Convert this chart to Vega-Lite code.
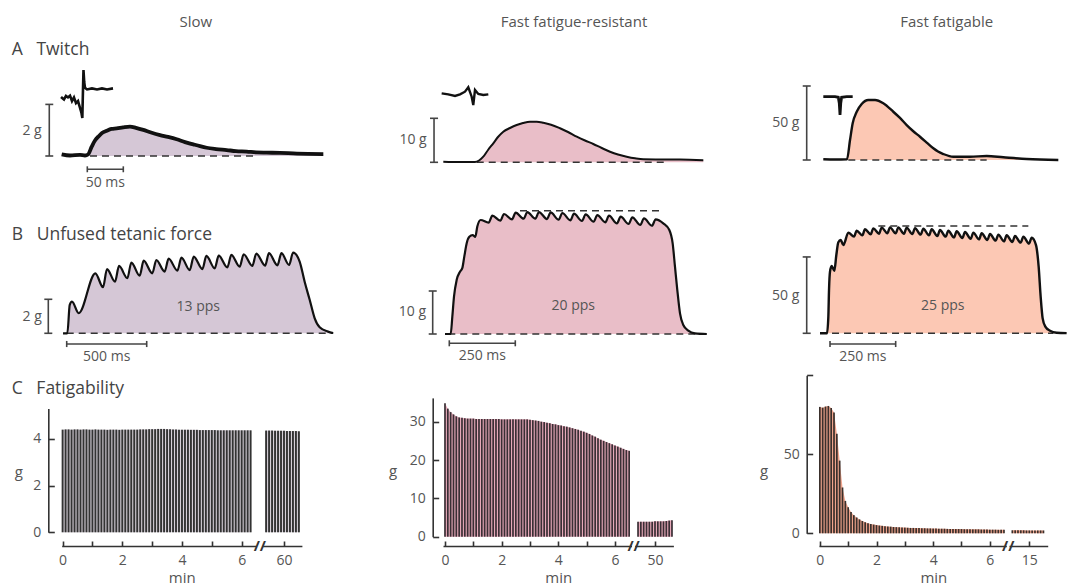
{
"$schema": "https://vega.github.io/schema/vega-lite/v6.json",
"padding": 0,
"background": "white",
"columns": 3,
"spacing": {"row": 8, "column": 30},
"bounds": "flush",
"config": {
  "view": {"stroke": null},
  "font": "Open Sans",
  "axis": {"grid": false, "domainColor": "#333", "tickColor": "#333", "domainWidth": 1.6, "tickWidth": 1.6, "labelFontSize": 14, "labelColor": "#555", "titleFontSize": 15, "titleFontWeight": "normal", "titleColor": "#555", "labelFlush": false, "labelOverlap": false},
  "title": {"fontSize": 17.5, "fontWeight": "normal", "color": "#444", "anchor": "start", "frame": "group"},
  "text": {"color": "#555", "fontSize": 14}
},
"concat": [
  {"width": 350, "height": 44, "data": {"values": [{"h": "Slow"}]}, "mark": {"type": "text", "dx": 20.8, "fontSize": 15, "color": "#555"}, "encoding": {"text": {"field": "h"}}},
  {"width": 350, "height": 44, "data": {"values": [{"h": "Fast fatigue-resistant"}]}, "mark": {"type": "text", "dx": 19, "fontSize": 15, "color": "#555"}, "encoding": {"text": {"field": "h"}}},
  {"width": 308, "height": 44, "data": {"values": [{"h": "Fast fatigable"}]}, "mark": {"type": "text", "dx": 32.7, "fontSize": 15, "color": "#555"}, "encoding": {"text": {"field": "h"}}},

  {"width": 350, "height": 135,
   "title": {"text": "A\u00a0\u00a0\u00a0Twitch", "dx": 11.7, "dy": 10},
   "data": {"values": [
    {"k":"f","t":-35.6,"g":0.066},{"k":"f","t":-24,"g":0.02},{"k":"f","t":-10.1,"g":0.04},{"k":"f","t":-3.2,"g":0.02},{"k":"f","t":1,"g":0.06},{"k":"f","t":6.1,"g":0.36},{"k":"f","t":10.7,"g":0.6},{"k":"f","t":15.3,"g":0.75},{"k":"f","t":20.4,"g":0.89},{"k":"f","t":26.9,"g":0.98},{"k":"f","t":33.6,"g":1.05},{"k":"f","t":40.8,"g":1.07},{"k":"f","t":49.6,"g":1.11},{"k":"f","t":59.3,"g":1.14},{"k":"f","t":67.6,"g":1.09},{"k":"f","t":77.8,"g":1.01},{"k":"f","t":88.5,"g":0.91},{"k":"f","t":101,"g":0.81},{"k":"f","t":112.1,"g":0.74},{"k":"f","t":124.2,"g":0.65},{"k":"f","t":135.7,"g":0.54},{"k":"f","t":147.2,"g":0.45},{"k":"f","t":156.5,"g":0.38},{"k":"f","t":165.8,"g":0.32},{"k":"f","t":178.8,"g":0.27},{"k":"f","t":193.6,"g":0.23},{"k":"f","t":206.5,"g":0.19},{"k":"f","t":221.4,"g":0.17},{"k":"f","t":234.3,"g":0.14},{"k":"f","t":249.2,"g":0.13},{"k":"f","t":267.6,"g":0.12},{"k":"f","t":286.1,"g":0.1},{"k":"f","t":306.5,"g":0.08},{"k":"f","t":327.8,"g":0.07},
    {"k":"e","t":-36.5,"g":2.29},{"k":"e","t":-32.4,"g":2.19},{"k":"e","t":-29.6,"g":2.33},{"k":"e","t":-26.8,"g":2.27},{"k":"e","t":-24,"g":2.34},{"k":"e","t":-21.25,"g":2.13},{"k":"e","t":-18.5,"g":2.27},{"k":"e","t":-15.7,"g":2.05},{"k":"e","t":-12.9,"g":2.13},{"k":"e","t":-10.1,"g":1.86},{"k":"e","t":-8.1,"g":1.67},{"k":"e","t":-6.9,"g":1.47},{"k":"e","t":-6,"g":2.56},{"k":"e","t":-5.3,"g":3.33},{"k":"e","t":-4.3,"g":2.87},{"k":"e","t":-3.2,"g":2.64},{"k":"e","t":-0.4,"g":2.58},{"k":"e","t":6.5,"g":2.62},{"k":"e","t":13.5,"g":2.58},{"k":"e","t":20.4,"g":2.62},{"k":"e","t":27.4,"g":2.58},{"k":"e","t":35.7,"g":2.62},
    {"k":"s","t":-52.8,"g":0,"t2":-52.8,"g2":2},{"k":"s","t":-58.3,"g":0,"t2":-47.3,"g2":0},{"k":"s","t":-58.3,"g":2,"t2":-47.3,"g2":2},
    {"k":"s","t":0,"g":-0.516,"t2":50,"g2":-0.516},{"k":"s","t":0,"g":-0.4,"t2":0,"g2":-0.63},{"k":"s","t":50,"g":-0.4,"t2":50,"g2":-0.63},
    {"k":"d","t":3.75,"g":0,"t2":235,"g2":0},
    {"k":"r","t":-63.3,"g":0.97,"txt":"2 g"},
    {"k":"c","t":25,"g":-1.058,"txt":"50 ms"}
   ]},
   "encoding": {
     "x": {"field": "t", "type": "quantitative", "scale": {"domain": [-121.25, 364.86]}, "axis": null},
     "y": {"field": "g", "type": "quantitative", "scale": {"domain": [-1.2016, 4.031]}, "axis": null}
   },
   "layer": [
     {"transform": [{"filter": "datum.k=='f'"}], "mark": {"type": "area", "color": "#d5c7d6", "interpolate": "monotone"}, "encoding": {"y2": {"datum": 0}}},
     {"transform": [{"filter": "datum.k=='d'"}], "mark": {"type": "rule", "color": "#333", "strokeWidth": 1.6, "strokeDash": [7, 5]}, "encoding": {"x2": {"field": "t2"}, "y2": {"field": "g2"}}},
     {"transform": [{"filter": "datum.k=='f'"}], "mark": {"type": "line", "color": "#111", "strokeWidth": 3.8, "interpolate": "monotone"}},
     {"transform": [{"filter": "datum.k=='e'"}], "mark": {"type": "line", "color": "#111", "strokeWidth": 2.6}},
     {"transform": [{"filter": "datum.k=='s'"}], "mark": {"type": "rule", "color": "#444", "strokeWidth": 1.6}, "encoding": {"x2": {"field": "t2"}, "y2": {"field": "g2"}}},
     {"transform": [{"filter": "datum.k=='r'"}], "mark": {"type": "text", "align": "right"}, "encoding": {"text": {"field": "txt"}}},
     {"transform": [{"filter": "datum.k=='c'"}], "mark": {"type": "text", "align": "center"}, "encoding": {"text": {"field": "txt"}}}
   ]
  },

  {"width": 350, "height": 135,
   "data": {"values": [
    {"k":"f","t":-44,"g":0.14},{"k":"f","t":-20.8,"g":0.07},{"k":"f","t":0,"g":0.07},{"k":"f","t":5.6,"g":0.41},{"k":"f","t":11.5,"g":1.27},{"k":"f","t":18.1,"g":2.8},{"k":"f","t":25.4,"g":4.32},{"k":"f","t":31.9,"g":5.75},{"k":"f","t":39.3,"g":6.95},{"k":"f","t":48.6,"g":7.8},{"k":"f","t":57.9,"g":8.48},{"k":"f","t":66.7,"g":8.93},{"k":"f","t":76.4,"g":9.23},{"k":"f","t":85.7,"g":9.23},{"k":"f","t":94.9,"g":9.0},{"k":"f","t":105.6,"g":8.55},{"k":"f","t":118.1,"g":7.73},{"k":"f","t":129.2,"g":6.89},{"k":"f","t":141.3,"g":5.82},{"k":"f","t":152.8,"g":4.95},{"k":"f","t":164.3,"g":4.16},{"k":"f","t":176,"g":3.25},{"k":"f","t":187.5,"g":2.41},{"k":"f","t":198.6,"g":1.77},{"k":"f","t":210.7,"g":1.27},{"k":"f","t":222.2,"g":0.91},{"k":"f","t":233.8,"g":0.68},{"k":"f","t":256.9,"g":0.64},{"k":"f","t":284.7,"g":0.61},{"k":"f","t":317.1,"g":0.48},
    {"k":"e","t":-46.3,"g":15.68},{"k":"e","t":-37.1,"g":15.45},{"k":"e","t":-27.8,"g":15.07},{"k":"e","t":-20.8,"g":15.45},{"k":"e","t":-13.9,"g":16.05},{"k":"e","t":-9.3,"g":17.05},{"k":"e","t":-4.6,"g":14.91},{"k":"e","t":-2.4,"g":13.02},{"k":"e","t":0,"g":16.43},{"k":"e","t":4.6,"g":15.52},{"k":"e","t":11.5,"g":15.3},{"k":"e","t":18.5,"g":15.45},
    {"k":"s","t":-56.9,"g":0,"t2":-56.9,"g2":10},{"k":"s","t":-62.5,"g":0,"t2":-51.3,"g2":0},{"k":"s","t":-62.5,"g":10,"t2":-51.3,"g2":10},
    {"k":"d","t":2.4,"g":0,"t2":266.2,"g2":0},
    {"k":"r","t":-67.1,"g":5.07,"txt":"10 g"}
   ]},
   "encoding": {
     "x": {"field": "t", "type": "quantitative", "scale": {"domain": [-131.94, 354.17]}, "axis": null},
     "y": {"field": "g", "type": "quantitative", "scale": {"domain": [-5.614, 25.07]}, "axis": null}
   },
   "layer": [
     {"transform": [{"filter": "datum.k=='f'"}], "mark": {"type": "area", "color": "#e9bec8", "interpolate": "monotone"}, "encoding": {"y2": {"datum": 0}}},
     {"transform": [{"filter": "datum.k=='d'"}], "mark": {"type": "rule", "color": "#333", "strokeWidth": 1.6, "strokeDash": [7, 5]}, "encoding": {"x2": {"field": "t2"}, "y2": {"field": "g2"}}},
     {"transform": [{"filter": "datum.k=='f'"}], "mark": {"type": "line", "color": "#111", "strokeWidth": 2, "interpolate": "monotone"}},
     {"transform": [{"filter": "datum.k=='e'"}], "mark": {"type": "line", "color": "#111", "strokeWidth": 2.4}},
     {"transform": [{"filter": "datum.k=='s'"}], "mark": {"type": "rule", "color": "#444", "strokeWidth": 1.6}, "encoding": {"x2": {"field": "t2"}, "y2": {"field": "g2"}}},
     {"transform": [{"filter": "datum.k=='r'"}], "mark": {"type": "text", "align": "right"}, "encoding": {"text": {"field": "txt"}}}
   ]
  },

  {"width": 308, "height": 135,
   "data": {"values": [
    {"k":"f","t":-32.9,"g":0.47},{"k":"f","t":-16.7,"g":0.34},{"k":"f","t":0,"g":0.47},{"k":"f","t":4.2,"g":13.5},{"k":"f","t":7.9,"g":24.8},{"k":"f","t":13.5,"g":32.6},{"k":"f","t":20.4,"g":37.8},{"k":"f","t":29.6,"g":40.5},{"k":"f","t":38.9,"g":40.5},{"k":"f","t":50.4,"g":38.3},{"k":"f","t":64.3,"g":32.6},{"k":"f","t":73.6,"g":28.4},{"k":"f","t":82.9,"g":23.6},{"k":"f","t":91.7,"g":19.6},{"k":"f","t":101.4,"g":15.7},{"k":"f","t":110.7,"g":11.8},{"k":"f","t":119.9,"g":7.9},{"k":"f","t":126.4,"g":5.7},{"k":"f","t":133.8,"g":4.05},{"k":"f","t":147.6,"g":2.23},{"k":"f","t":170.8,"g":2.23},{"k":"f","t":194,"g":2.7},{"k":"f","t":217.1,"g":1.82},{"k":"f","t":249.6,"g":0.68},{"k":"f","t":293.5,"g":0.0},
    {"k":"e","t":-32.9,"g":42.8},{"k":"e","t":-16.7,"g":42.8},{"k":"e","t":-12.1,"g":42.4},{"k":"e","t":-10.7,"g":38.3},{"k":"e","t":-9.7,"g":30.4},{"k":"e","t":-8.7,"g":38.3},{"k":"e","t":-7.5,"g":42.4},{"k":"e","t":-0.4,"g":42.8},{"k":"e","t":7.9,"g":42.8},
    {"k":"s","t":-55.97,"g":0,"t2":-55.97,"g2":50},{"k":"s","t":-61.5,"g":0,"t2":-50.4,"g2":0},{"k":"s","t":-61.5,"g":50,"t2":-50.4,"g2":50},
    {"k":"d","t":1.8,"g":0,"t2":194,"g2":0},
    {"k":"r","t":-66.1,"g":25.2,"txt":"50 g"}
   ]},
   "encoding": {
     "x": {"field": "t", "type": "quantitative", "scale": {"domain": [-120.83, 306.94]}, "axis": null},
     "y": {"field": "g", "type": "quantitative", "scale": {"domain": [-18.24, 72.97]}, "axis": null}
   },
   "layer": [
     {"transform": [{"filter": "datum.k=='f'"}], "mark": {"type": "area", "color": "#fcc8b4", "interpolate": "monotone"}, "encoding": {"y2": {"datum": 0}}},
     {"transform": [{"filter": "datum.k=='d'"}], "mark": {"type": "rule", "color": "#333", "strokeWidth": 1.6, "strokeDash": [7, 5]}, "encoding": {"x2": {"field": "t2"}, "y2": {"field": "g2"}}},
     {"transform": [{"filter": "datum.k=='f'"}], "mark": {"type": "line", "color": "#111", "strokeWidth": 2.4, "interpolate": "monotone"}},
     {"transform": [{"filter": "datum.k=='e'"}], "mark": {"type": "line", "color": "#111", "strokeWidth": 2.8}},
     {"transform": [{"filter": "datum.k=='s'"}], "mark": {"type": "rule", "color": "#444", "strokeWidth": 1.6}, "encoding": {"x2": {"field": "t2"}, "y2": {"field": "g2"}}},
     {"transform": [{"filter": "datum.k=='r'"}], "mark": {"type": "text", "align": "right"}, "encoding": {"text": {"field": "txt"}}}
   ]
  },

  {"width": 350, "height": 165,
   "title": {"text": "B\u00a0\u00a0\u00a0Unfused tetanic force", "dx": 11.7, "dy": 52},
   "data": {"values": [
    {"k":"f","t":-23,"g":0},{"k":"f","t":4,"g":0},{"k":"f","t":19,"g":1.67},{"k":"f","t":33,"g":1.86},{"k":"f","t":75,"g":1.18},{"k":"f","t":179,"g":3.53},{"k":"f","t":227,"g":2.71},{"k":"f","t":252,"g":3.78},{"k":"f","t":302,"g":3.04},{"k":"f","t":327,"g":3.96},{"k":"f","t":379,"g":3.24},{"k":"f","t":404,"g":4.16},{"k":"f","t":456,"g":3.39},{"k":"f","t":481,"g":4.27},{"k":"f","t":535,"g":3.53},{"k":"f","t":560,"g":4.31},{"k":"f","t":612,"g":3.63},{"k":"f","t":637,"g":4.39},{"k":"f","t":692,"g":3.69},{"k":"f","t":717,"g":4.45},{"k":"f","t":769,"g":3.72},{"k":"f","t":794,"g":4.51},{"k":"f","t":848,"g":3.78},{"k":"f","t":873,"g":4.55},{"k":"f","t":925,"g":3.82},{"k":"f","t":950,"g":4.57},{"k":"f","t":1004,"g":3.88},{"k":"f","t":1029,"g":4.61},{"k":"f","t":1081,"g":3.92},{"k":"f","t":1106,"g":4.65},{"k":"f","t":1160,"g":3.96},{"k":"f","t":1185,"g":4.69},{"k":"f","t":1240,"g":3.98},{"k":"f","t":1264,"g":4.71},{"k":"f","t":1317,"g":4.0},{"k":"f","t":1342,"g":4.71},{"k":"f","t":1390,"g":4.02},{"k":"f","t":1415,"g":4.75},{"k":"f","t":1456,"g":4.22},{"k":"f","t":1488,"g":3.0},{"k":"f","t":1519,"g":1.96},{"k":"f","t":1550,"g":0.88},{"k":"f","t":1581,"g":0.35},{"k":"f","t":1633,"g":0.1},{"k":"f","t":1665,"g":0.02},
    {"k":"s","t":-115,"g":0,"t2":-115,"g2":2},{"k":"s","t":-140,"g":0,"t2":-90,"g2":0},{"k":"s","t":-140,"g":2,"t2":-90,"g2":2},
    {"k":"s","t":0,"g":-0.63,"t2":500,"g2":-0.63},{"k":"s","t":0,"g":-0.45,"t2":0,"g2":-0.81},{"k":"s","t":500,"g":-0.45,"t2":500,"g2":-0.81},
    {"k":"d","t":0,"g":0,"t2":1666,"g2":0},
    {"k":"r","t":-156,"g":0.98,"txt":"2 g"},
    {"k":"c","t":250,"g":-1.38,"txt":"500 ms"},
    {"k":"c","t":822.5,"g":1.565,"txt":"13 pps"}
   ]},
   "encoding": {
     "x": {"field": "t", "type": "quantitative", "scale": {"domain": [-416.9, 1770.6]}, "axis": null},
     "y": {"field": "g", "type": "quantitative", "scale": {"domain": [-1.571, 8.135]}, "axis": null}
   },
   "layer": [
     {"transform": [{"filter": "datum.k=='f'"}], "mark": {"type": "area", "color": "#d5c7d6", "interpolate": "monotone"}, "encoding": {"y2": {"datum": 0}}},
     {"transform": [{"filter": "datum.k=='d'"}], "mark": {"type": "rule", "color": "#333", "strokeWidth": 1.6, "strokeDash": [7, 5]}, "encoding": {"x2": {"field": "t2"}, "y2": {"field": "g2"}}},
     {"transform": [{"filter": "datum.k=='f'"}], "mark": {"type": "line", "color": "#111", "strokeWidth": 2.2, "interpolate": "monotone"}},
     {"transform": [{"filter": "datum.k=='s'"}], "mark": {"type": "rule", "color": "#444", "strokeWidth": 1.6}, "encoding": {"x2": {"field": "t2"}, "y2": {"field": "g2"}}},
     {"transform": [{"filter": "datum.k=='r'"}], "mark": {"type": "text", "align": "right"}, "encoding": {"text": {"field": "txt"}}},
     {"transform": [{"filter": "datum.k=='c'"}], "mark": {"type": "text", "align": "center"}, "encoding": {"text": {"field": "txt"}}}
   ]
  },

  {"width": 350, "height": 165,
   "data": {"values": [
    {"k":"f","t":-16.3,"g":0},{"k":"f","t":5.3,"g":0},{"k":"f","t":11.4,"g":4.0},{"k":"f","t":17.8,"g":8.7},{"k":"f","t":28,"g":12.6},{"k":"f","t":40.5,"g":14.5},{"k":"f","t":49.2,"g":15.3},{"k":"f","t":56.8,"g":18.0},{"k":"f","t":65.9,"g":21.1},{"k":"f","t":75.8,"g":22.6},{"k":"f","t":88.6,"g":23.0},{"k":"f","t":98.5,"g":22.6},{"k":"f","t":106.1,"g":25.0},{"k":"f","t":118.8,"g":26.51},
    {"k":"f","t":149.1,"g":25.89},{"k":"f","t":163,"g":27.52},{"k":"f","t":193.3,"g":26.36},{"k":"f","t":207.2,"g":27.91},{"k":"f","t":237.5,"g":26.67},{"k":"f","t":251.4,"g":28.22},{"k":"f","t":281.7,"g":26.82},{"k":"f","t":295.6,"g":28.37},{"k":"f","t":325.9,"g":26.82},{"k":"f","t":339.8,"g":28.37},{"k":"f","t":370.1,"g":26.74},{"k":"f","t":384,"g":28.29},{"k":"f","t":414.3,"g":26.59},{"k":"f","t":428.1,"g":28.14},{"k":"f","t":458.5,"g":26.43},{"k":"f","t":472.3,"g":27.98},{"k":"f","t":502.7,"g":26.28},{"k":"f","t":516.5,"g":27.83},{"k":"f","t":546.8,"g":26.12},{"k":"f","t":560.7,"g":27.67},{"k":"f","t":591,"g":25.97},{"k":"f","t":604.9,"g":27.52},{"k":"f","t":635.2,"g":25.74},{"k":"f","t":649.1,"g":27.29},{"k":"f","t":679.4,"g":25.58},{"k":"f","t":693.3,"g":27.13},{"k":"f","t":723.6,"g":25.35},{"k":"f","t":737.5,"g":26.9},{"k":"f","t":767.8,"g":25.19},{"k":"f","t":781.7,"g":26.67},
    {"k":"f","t":810.6,"g":25.74},{"k":"f","t":833.5,"g":24.19},{"k":"f","t":846.1,"g":21.09},{"k":"f","t":854.9,"g":15.66},{"k":"f","t":863.7,"g":10.23},{"k":"f","t":873.9,"g":4.81},{"k":"f","t":886.4,"g":2.09},{"k":"f","t":905.3,"g":0.78},{"k":"f","t":930.7,"g":0.15},{"k":"f","t":974.9,"g":0},
    {"k":"s","t":-62.9,"g":0,"t2":-62.9,"g2":10},{"k":"s","t":-78,"g":0,"t2":-47.7,"g2":0},{"k":"s","t":-78,"g":10,"t2":-47.7,"g2":10},
    {"k":"s","t":0,"g":-2.16,"t2":250,"g2":-2.16},{"k":"s","t":0,"g":-1.46,"t2":0,"g2":-2.86},{"k":"s","t":250,"g":-1.46,"t2":250,"g2":-2.86},
    {"k":"d","t":-3.8,"g":0,"t2":975,"g2":0},
    {"k":"d","t":267.8,"g":28.67,"t2":798.1,"g2":28.67},
    {"k":"r","t":-88.3,"g":5.19,"txt":"10 g"},
    {"k":"c","t":125,"g":-5.05,"txt":"250 ms"},
    {"k":"c","t":469.7,"g":6.51,"txt":"20 pps"}
   ]},
   "encoding": {
     "x": {"field": "t", "type": "quantitative", "scale": {"domain": [-262.5, 1063.3]}, "axis": null},
     "y": {"field": "g", "type": "quantitative", "scale": {"domain": [-6.047, 32.33]}, "axis": null}
   },
   "layer": [
     {"transform": [{"filter": "datum.k=='f'"}], "mark": {"type": "area", "color": "#e9bec8", "interpolate": "monotone"}, "encoding": {"y2": {"datum": 0}}},
     {"transform": [{"filter": "datum.k=='d'"}], "mark": {"type": "rule", "color": "#333", "strokeWidth": 1.6, "strokeDash": [7, 5]}, "encoding": {"x2": {"field": "t2"}, "y2": {"field": "g2"}}},
     {"transform": [{"filter": "datum.k=='f'"}], "mark": {"type": "line", "color": "#111", "strokeWidth": 2.2, "interpolate": "monotone"}},
     {"transform": [{"filter": "datum.k=='s'"}], "mark": {"type": "rule", "color": "#444", "strokeWidth": 1.6}, "encoding": {"x2": {"field": "t2"}, "y2": {"field": "g2"}}},
     {"transform": [{"filter": "datum.k=='r'"}], "mark": {"type": "text", "align": "right"}, "encoding": {"text": {"field": "txt"}}},
     {"transform": [{"filter": "datum.k=='c'"}], "mark": {"type": "text", "align": "center"}, "encoding": {"text": {"field": "txt"}}}
   ]
  },

  {"width": 308, "height": 165,
   "data": {"values": [
    {"k":"f","t":-38.1,"g":0},{"k":"f","t":-11.4,"g":0},{"k":"f","t":-6.3,"g":10.9},{"k":"f","t":-3.8,"g":28.2},{"k":"f","t":0,"g":40.4},{"k":"f","t":6.3,"g":44.1},{"k":"f","t":16.5,"g":41.0},{"k":"f","t":24.1,"g":51.3},{"k":"f","t":31.7,"g":59.6},{"k":"f","t":40.6,"g":61.1},{"k":"f","t":50.8,"g":57.8},{"k":"f","t":69.8,"g":65.9},
    {"k":"f","t":91.4,"g":63.3},{"k":"f","t":101.5,"g":67.2},{"k":"f","t":123.1,"g":64.2},{"k":"f","t":133.2,"g":68.1},{"k":"f","t":154.8,"g":64.8},{"k":"f","t":164.9,"g":68.7},{"k":"f","t":186.5,"g":65.2},{"k":"f","t":196.7,"g":69.2},{"k":"f","t":218.2,"g":65.5},{"k":"f","t":228.4,"g":69.4},{"k":"f","t":250,"g":65.5},{"k":"f","t":260.1,"g":69.4},{"k":"f","t":281.7,"g":65.2},{"k":"f","t":291.8,"g":69.2},{"k":"f","t":313.4,"g":65.0},{"k":"f","t":323.6,"g":68.9},{"k":"f","t":345.1,"g":64.6},{"k":"f","t":355.3,"g":68.5},{"k":"f","t":376.8,"g":64.2},{"k":"f","t":387,"g":68.1},{"k":"f","t":408.6,"g":63.7},{"k":"f","t":418.7,"g":67.6},{"k":"f","t":440.3,"g":63.3},{"k":"f","t":450.4,"g":67.2},{"k":"f","t":472,"g":62.8},{"k":"f","t":482.2,"g":66.8},{"k":"f","t":503.7,"g":62.4},{"k":"f","t":513.9,"g":66.3},{"k":"f","t":535.5,"g":61.9},{"k":"f","t":545.6,"g":65.9},{"k":"f","t":567.2,"g":61.5},{"k":"f","t":577.3,"g":65.5},{"k":"f","t":598.9,"g":61.1},{"k":"f","t":609.1,"g":65.0},{"k":"f","t":630.6,"g":60.7},{"k":"f","t":640.8,"g":64.6},{"k":"f","t":662.4,"g":60.2},{"k":"f","t":672.5,"g":64.2},{"k":"f","t":694.1,"g":59.8},{"k":"f","t":704.2,"g":63.7},{"k":"f","t":725.8,"g":59.4},{"k":"f","t":736,"g":63.3},{"k":"f","t":757.5,"g":58.7},{"k":"f","t":767.7,"g":62.6},
    {"k":"f","t":784.2,"g":57.8},{"k":"f","t":794.3,"g":43.6},{"k":"f","t":801.9,"g":24.0},{"k":"f","t":809.5,"g":9.8},{"k":"f","t":819.7,"g":4.4},{"k":"f","t":837.5,"g":1.7},{"k":"f","t":862.8,"g":0.4},{"k":"f","t":900.8,"g":0.1},
    {"k":"s","t":-88.7,"g":0,"t2":-88.7,"g2":50},{"k":"s","t":-104,"g":0,"t2":-73.5,"g2":0},{"k":"s","t":-104,"g":50,"t2":-73.5,"g2":50},
    {"k":"s","t":0,"g":-7,"t2":250,"g2":-7},{"k":"s","t":0,"g":-5,"t2":0,"g2":-9},{"k":"s","t":250,"g":-5,"t2":250,"g2":-9},
    {"k":"d","t":-38,"g":0,"t2":850,"g2":0},
    {"k":"d","t":183.9,"g":70.3,"t2":755,"g2":70.3},
    {"k":"r","t":-116.9,"g":24.4,"txt":"50 g"},
    {"k":"c","t":125,"g":-15.3,"txt":"250 ms"},
    {"k":"c","t":429,"g":18.1,"txt":"25 pps"}
   ]},
   "encoding": {
     "x": {"field": "t", "type": "quantitative", "scale": {"domain": [-266.5, 906.0]}, "axis": null},
     "y": {"field": "g", "type": "quantitative", "scale": {"domain": [-17.49, 90.57]}, "axis": null}
   },
   "layer": [
     {"transform": [{"filter": "datum.k=='f'"}], "mark": {"type": "area", "color": "#fcc8b4", "interpolate": "monotone"}, "encoding": {"y2": {"datum": 0}}},
     {"transform": [{"filter": "datum.k=='d'"}], "mark": {"type": "rule", "color": "#333", "strokeWidth": 1.6, "strokeDash": [7, 5]}, "encoding": {"x2": {"field": "t2"}, "y2": {"field": "g2"}}},
     {"transform": [{"filter": "datum.k=='f'"}], "mark": {"type": "line", "color": "#111", "strokeWidth": 2.4, "interpolate": "monotone"}},
     {"transform": [{"filter": "datum.k=='s'"}], "mark": {"type": "rule", "color": "#444", "strokeWidth": 1.6}, "encoding": {"x2": {"field": "t2"}, "y2": {"field": "g2"}}},
     {"transform": [{"filter": "datum.k=='r'"}], "mark": {"type": "text", "align": "right"}, "encoding": {"text": {"field": "txt"}}},
     {"transform": [{"filter": "datum.k=='c'"}], "mark": {"type": "text", "align": "center"}, "encoding": {"text": {"field": "txt"}}}
   ]
  },

  {"width": 350, "height": 178,
   "title": {"text": "C\u00a0\u00a0\u00a0Fatigability", "dx": 11.7, "dy": 33},
   "encoding": {
     "x": {"field": "m", "type": "quantitative", "scale": {"domain": [-0.03, 6.5, 59.3, 60.6], "range": [61.7, 256.6, 263.1, 301.9]},
           "axis": {"values": [0,1,2,3,4,5,6,60], "labelExpr": "(datum.value==1||datum.value==3||datum.value==5) ? '' : datum.label", "title": "min", "tickSize": -5, "labelPadding": 12, "titlePadding": 3}},
     "y": {"field": "g", "type": "quantitative", "scale": {"domain": [0, 5.31], "range": [164.3, 40.4]},
           "axis": {"values": [0,2,4], "title": "g", "titleAngle": 0, "titleX": -30, "titleY": 103, "titleAlign": "center", "titleBaseline": "middle", "offset": -48.3, "tickSize": -6, "labelPadding": 13.5}}
   },
   "layer": [
     {"data": {"values": [
       {"m":0.0,"g":4.40,"s":1},{"m":0.1,"g":4.41,"s":1},{"m":0.2,"g":4.41,"s":1},{"m":0.3,"g":4.40,"s":1},{"m":0.4,"g":4.41,"s":1},{"m":0.5,"g":4.41,"s":1},{"m":0.6,"g":4.40,"s":1},{"m":0.7,"g":4.41,"s":1},{"m":0.8,"g":4.41,"s":1},{"m":0.9,"g":4.40,"s":1},
       {"m":1.0,"g":4.40,"s":1},{"m":1.1,"g":4.41,"s":1},{"m":1.2,"g":4.40,"s":1},{"m":1.3,"g":4.40,"s":1},{"m":1.4,"g":4.40,"s":1},{"m":1.5,"g":4.39,"s":1},{"m":1.6,"g":4.40,"s":1},{"m":1.7,"g":4.40,"s":1},{"m":1.8,"g":4.40,"s":1},{"m":1.9,"g":4.39,"s":1},
       {"m":2.0,"g":4.40,"s":1},{"m":2.1,"g":4.40,"s":1},{"m":2.2,"g":4.40,"s":1},{"m":2.3,"g":4.40,"s":1},{"m":2.4,"g":4.40,"s":1},{"m":2.5,"g":4.40,"s":1},{"m":2.6,"g":4.41,"s":1},{"m":2.7,"g":4.41,"s":1},{"m":2.8,"g":4.41,"s":1},{"m":2.9,"g":4.42,"s":1},
       {"m":3.0,"g":4.42,"s":1},{"m":3.1,"g":4.42,"s":1},{"m":3.2,"g":4.43,"s":1},{"m":3.3,"g":4.43,"s":1},{"m":3.4,"g":4.43,"s":1},{"m":3.5,"g":4.42,"s":1},{"m":3.6,"g":4.42,"s":1},{"m":3.7,"g":4.41,"s":1},{"m":3.8,"g":4.41,"s":1},{"m":3.9,"g":4.40,"s":1},
       {"m":4.0,"g":4.40,"s":1},{"m":4.1,"g":4.40,"s":1},{"m":4.2,"g":4.39,"s":1},{"m":4.3,"g":4.39,"s":1},{"m":4.4,"g":4.39,"s":1},{"m":4.5,"g":4.39,"s":1},{"m":4.6,"g":4.38,"s":1},{"m":4.7,"g":4.38,"s":1},{"m":4.8,"g":4.38,"s":1},{"m":4.9,"g":4.38,"s":1},
       {"m":5.0,"g":4.38,"s":1},{"m":5.1,"g":4.38,"s":1},{"m":5.2,"g":4.37,"s":1},{"m":5.3,"g":4.37,"s":1},{"m":5.4,"g":4.37,"s":1},{"m":5.5,"g":4.37,"s":1},{"m":5.6,"g":4.37,"s":1},{"m":5.7,"g":4.37,"s":1},{"m":5.8,"g":4.37,"s":1},{"m":5.9,"g":4.37,"s":1},
       {"m":6.0,"g":4.37,"s":1},{"m":6.1,"g":4.37,"s":1},{"m":6.2,"g":4.37,"s":1},{"m":6.3,"g":4.37,"s":1},
       {"m":59.4,"g":4.36,"s":2},{"m":59.5,"g":4.36,"s":2},{"m":59.6,"g":4.36,"s":2},{"m":59.7,"g":4.35,"s":2},{"m":59.8,"g":4.35,"s":2},{"m":59.9,"g":4.35,"s":2},{"m":60.0,"g":4.35,"s":2},{"m":60.1,"g":4.34,"s":2},{"m":60.2,"g":4.34,"s":2},{"m":60.3,"g":4.34,"s":2},{"m":60.4,"g":4.34,"s":2},{"m":60.5,"g":4.33,"s":2}
      ]},
      "layer": [
        {"mark": {"type": "area", "color": "#d6d0d8"}, "encoding": {"y2": {"datum": 0}, "detail": {"field": "s"}}},
        {"mark": {"type": "rule", "color": "#333", "strokeWidth": 1.9}, "encoding": {"y2": {"datum": 0}}}
      ]
     },
     {"data": {"values": [{"m": 6.58, "m2": 59.22, "g": -0.59, "txt": "//"}]},
      "layer": [
        {"mark": {"type": "rule", "color": "white", "strokeWidth": 4}, "encoding": {"x2": {"field": "m2"}}},
        {"mark": {"type": "text", "fontSize": 15, "fontWeight": "bold", "color": "#333"}, "encoding": {"x": {"datum": 32.9}, "text": {"field": "txt"}}}
      ]
     }
   ]
  },

  {"width": 350, "height": 178,
   "encoding": {
     "x": {"field": "m", "type": "quantitative", "scale": {"domain": [-0.07, 6.6, 49.3, 50.65], "range": [63, 252, 255.2, 293.4]},
           "axis": {"values": [0,1,2,3,4,5,6,50], "labelExpr": "(datum.value==1||datum.value==3||datum.value==5) ? '' : datum.label", "title": "min", "tickSize": -5, "labelPadding": 12, "titlePadding": 3}},
     "y": {"field": "g", "type": "quantitative", "scale": {"domain": [0, 36.2], "range": [168.7, 29.9]},
           "axis": {"values": [0,10,20,30], "title": "g", "titleAngle": 0, "titleX": -40, "titleY": 102, "titleAlign": "center", "titleBaseline": "middle", "offset": -52.7, "tickSize": -6, "labelPadding": 13.5}}
   },
   "layer": [
     {"data": {"values": [
       {"m":0.0,"g":34.8,"s":1},{"m":0.1,"g":33.4,"s":1},{"m":0.2,"g":32.5,"s":1},{"m":0.3,"g":31.9,"s":1},{"m":0.4,"g":31.4,"s":1},{"m":0.5,"g":31.1,"s":1},{"m":0.6,"g":31.0,"s":1},{"m":0.7,"g":30.9,"s":1},{"m":0.8,"g":30.8,"s":1},{"m":0.9,"g":30.8,"s":1},
       {"m":1.0,"g":30.8,"s":1},{"m":1.1,"g":30.7,"s":1},{"m":1.2,"g":30.7,"s":1},{"m":1.3,"g":30.7,"s":1},{"m":1.4,"g":30.7,"s":1},{"m":1.5,"g":30.7,"s":1},{"m":1.6,"g":30.7,"s":1},{"m":1.7,"g":30.7,"s":1},{"m":1.8,"g":30.7,"s":1},{"m":1.9,"g":30.7,"s":1},
       {"m":2.0,"g":30.6,"s":1},{"m":2.1,"g":30.6,"s":1},{"m":2.2,"g":30.6,"s":1},{"m":2.3,"g":30.6,"s":1},{"m":2.4,"g":30.6,"s":1},{"m":2.5,"g":30.6,"s":1},{"m":2.6,"g":30.6,"s":1},{"m":2.7,"g":30.6,"s":1},{"m":2.8,"g":30.6,"s":1},{"m":2.9,"g":30.6,"s":1},
       {"m":3.0,"g":30.5,"s":1},{"m":3.1,"g":30.4,"s":1},{"m":3.2,"g":30.3,"s":1},{"m":3.3,"g":30.2,"s":1},{"m":3.4,"g":30.0,"s":1},{"m":3.5,"g":29.9,"s":1},{"m":3.6,"g":29.7,"s":1},{"m":3.7,"g":29.6,"s":1},{"m":3.8,"g":29.4,"s":1},{"m":3.9,"g":29.3,"s":1},
       {"m":4.0,"g":29.1,"s":1},{"m":4.1,"g":29.0,"s":1},{"m":4.2,"g":28.8,"s":1},{"m":4.3,"g":28.7,"s":1},{"m":4.4,"g":28.5,"s":1},{"m":4.5,"g":28.3,"s":1},{"m":4.6,"g":28.1,"s":1},{"m":4.7,"g":27.9,"s":1},{"m":4.8,"g":27.6,"s":1},{"m":4.9,"g":27.4,"s":1},
       {"m":5.0,"g":27.1,"s":1},{"m":5.1,"g":26.8,"s":1},{"m":5.2,"g":26.4,"s":1},{"m":5.3,"g":26.1,"s":1},{"m":5.4,"g":25.7,"s":1},{"m":5.5,"g":25.3,"s":1},{"m":5.6,"g":25.0,"s":1},{"m":5.7,"g":24.7,"s":1},{"m":5.8,"g":24.4,"s":1},{"m":5.9,"g":24.1,"s":1},
       {"m":6.0,"g":23.8,"s":1},{"m":6.1,"g":23.5,"s":1},{"m":6.2,"g":23.2,"s":1},{"m":6.3,"g":22.9,"s":1},{"m":6.4,"g":22.6,"s":1},{"m":6.5,"g":22.4,"s":1},
       {"m":49.4,"g":3.9,"s":2},{"m":49.5,"g":3.9,"s":2},{"m":49.6,"g":3.9,"s":2},{"m":49.7,"g":3.9,"s":2},{"m":49.8,"g":3.9,"s":2},{"m":49.9,"g":3.9,"s":2},{"m":50.0,"g":4.0,"s":2},{"m":50.1,"g":4.0,"s":2},{"m":50.2,"g":4.0,"s":2},{"m":50.3,"g":4.0,"s":2},{"m":50.4,"g":4.1,"s":2},{"m":50.5,"g":4.2,"s":2},{"m":50.6,"g":4.3,"s":2}
      ]},
      "layer": [
        {"mark": {"type": "area", "color": "#e6a9b9"}, "encoding": {"y2": {"datum": 0}, "detail": {"field": "s"}}},
        {"mark": {"type": "rule", "color": "#3a2f35", "strokeWidth": 1.7}, "encoding": {"y2": {"datum": 0}}}
      ]
     },
     {"data": {"values": [{"m": 6.65, "m2": 49.2, "g": -2.43, "txt": "//"}]},
      "layer": [
        {"mark": {"type": "rule", "color": "white", "strokeWidth": 4}, "encoding": {"x2": {"field": "m2"}}},
        {"mark": {"type": "text", "fontSize": 15, "fontWeight": "bold", "color": "#333"}, "encoding": {"x": {"datum": 27.95}, "text": {"field": "txt"}}}
      ]
     }
   ]
  },

  {"width": 308, "height": 178,
   "encoding": {
     "x": {"field": "m", "type": "quantitative", "scale": {"domain": [-0.03, 6.6, 14.3, 15.65], "range": [59, 246.8, 249.5, 287.7]},
           "axis": {"values": [0,1,2,3,4,5,6,15], "labelExpr": "(datum.value==1||datum.value==3||datum.value==5) ? '' : datum.label", "title": "min", "tickSize": -5, "labelPadding": 12, "titlePadding": 3}},
     "y": {"field": "g", "type": "quantitative", "scale": {"domain": [0, 100], "range": [165.3, 7.3]},
           "axis": {"values": [0,50,100], "labelExpr": "datum.value==100 ? '' : datum.label", "title": "g", "titleAngle": 0, "titleX": -43, "titleY": 102, "titleAlign": "center", "titleBaseline": "middle", "offset": -46.7, "tickSize": -6, "labelPadding": 13.5}}
   },
   "layer": [
     {"data": {"values": [
       {"m":0.0,"g":80.0,"s":1},{"m":0.1,"g":79.5,"s":1},{"m":0.2,"g":80.2,"s":1},{"m":0.3,"g":80.6,"s":1},{"m":0.4,"g":79.3,"s":1},{"m":0.5,"g":76.5,"s":1},{"m":0.6,"g":63.0,"s":1},{"m":0.7,"g":46.0,"s":1},{"m":0.8,"g":29.0,"s":1},{"m":0.9,"g":20.5,"s":1},
       {"m":1.0,"g":16.5,"s":1},{"m":1.1,"g":13.5,"s":1},{"m":1.2,"g":11.5,"s":1},{"m":1.3,"g":10.0,"s":1},{"m":1.4,"g":8.8,"s":1},{"m":1.5,"g":7.8,"s":1},{"m":1.6,"g":7.0,"s":1},{"m":1.7,"g":6.4,"s":1},{"m":1.8,"g":5.9,"s":1},{"m":1.9,"g":5.5,"s":1},
       {"m":2.0,"g":5.2,"s":1},{"m":2.1,"g":4.9,"s":1},{"m":2.2,"g":4.7,"s":1},{"m":2.3,"g":4.5,"s":1},{"m":2.4,"g":4.3,"s":1},{"m":2.5,"g":4.2,"s":1},{"m":2.6,"g":4.0,"s":1},{"m":2.7,"g":3.9,"s":1},{"m":2.8,"g":3.8,"s":1},{"m":2.9,"g":3.7,"s":1},
       {"m":3.0,"g":3.6,"s":1},{"m":3.1,"g":3.5,"s":1},{"m":3.2,"g":3.4,"s":1},{"m":3.3,"g":3.4,"s":1},{"m":3.4,"g":3.3,"s":1},{"m":3.5,"g":3.3,"s":1},{"m":3.6,"g":3.2,"s":1},{"m":3.7,"g":3.2,"s":1},{"m":3.8,"g":3.1,"s":1},{"m":3.9,"g":3.1,"s":1},
       {"m":4.0,"g":3.0,"s":1},{"m":4.1,"g":3.0,"s":1},{"m":4.2,"g":2.9,"s":1},{"m":4.3,"g":2.9,"s":1},{"m":4.4,"g":2.9,"s":1},{"m":4.5,"g":2.8,"s":1},{"m":4.6,"g":2.8,"s":1},{"m":4.7,"g":2.8,"s":1},{"m":4.8,"g":2.7,"s":1},{"m":4.9,"g":2.7,"s":1},
       {"m":5.0,"g":2.7,"s":1},{"m":5.1,"g":2.6,"s":1},{"m":5.2,"g":2.6,"s":1},{"m":5.3,"g":2.6,"s":1},{"m":5.4,"g":2.5,"s":1},{"m":5.5,"g":2.5,"s":1},{"m":5.6,"g":2.5,"s":1},{"m":5.7,"g":2.4,"s":1},{"m":5.8,"g":2.4,"s":1},{"m":5.9,"g":2.4,"s":1},
       {"m":6.0,"g":2.3,"s":1},{"m":6.1,"g":2.3,"s":1},{"m":6.2,"g":2.3,"s":1},{"m":6.3,"g":2.2,"s":1},{"m":6.4,"g":2.2,"s":1},{"m":6.5,"g":2.2,"s":1},
       {"m":14.4,"g":1.9,"s":2},{"m":14.5,"g":1.9,"s":2},{"m":14.6,"g":1.9,"s":2},{"m":14.7,"g":1.9,"s":2},{"m":14.8,"g":1.9,"s":2},{"m":14.9,"g":1.8,"s":2},{"m":15.0,"g":1.8,"s":2},{"m":15.1,"g":1.8,"s":2},{"m":15.2,"g":1.8,"s":2},{"m":15.3,"g":1.8,"s":2},{"m":15.4,"g":1.8,"s":2},{"m":15.5,"g":1.8,"s":2}
      ]},
      "layer": [
        {"mark": {"type": "area", "color": "#efa48c"}, "encoding": {"y2": {"datum": 0}, "detail": {"field": "s"}}},
        {"mark": {"type": "rule", "color": "#3a302c", "strokeWidth": 1.7}, "encoding": {"y2": {"datum": 0}}}
      ]
     },
     {"data": {"values": [{"m": 6.65, "m2": 14.25, "g": -8.04, "txt": "//"}]},
      "layer": [
        {"mark": {"type": "rule", "color": "white", "strokeWidth": 4}, "encoding": {"x2": {"field": "m2"}}},
        {"mark": {"type": "text", "fontSize": 15, "fontWeight": "bold", "color": "#333"}, "encoding": {"x": {"datum": 10.45}, "text": {"field": "txt"}}}
      ]
     }
   ]
  }
]
}
